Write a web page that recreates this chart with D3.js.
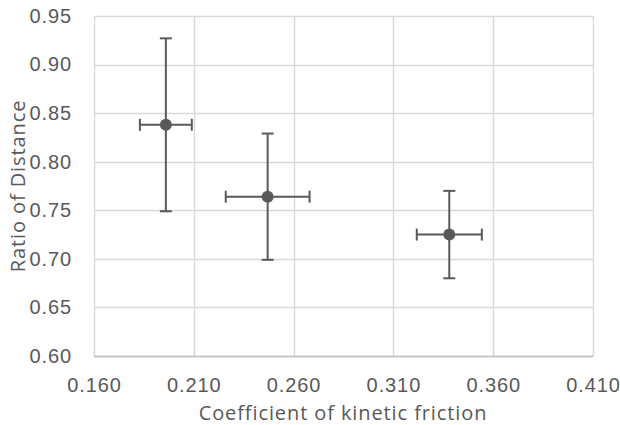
<!DOCTYPE html>
<html>
<head>
<meta charset="utf-8">
<script src="https://cdn.jsdelivr.net/npm/d3@7"></script>
<style>
  body { margin: 0; background: #fff; }
  svg { display: block; font-family: "Open Sans", Lato, sans-serif; }
</style>
</head>
<body>
<svg width="620" height="425"></svg>
<script>
// data
var friction = [0.196, 0.247, 0.338];
var frictionErr = [0.013, 0.021, 0.0163];
var ratio = [0.838, 0.764, 0.725];
var ratioErr = [0.089, 0.065, 0.045];
var xTicks = [0.160, 0.210, 0.260, 0.310, 0.360, 0.410];
var yTicks = [0.60, 0.65, 0.70, 0.75, 0.80, 0.85, 0.90, 0.95];

var svg = d3.select("svg"),
    margin = {top: 16, right: 27, bottom: 69, left: 94},
    width = +svg.attr("width") - margin.left - margin.right,
    height = +svg.attr("height") - margin.top - margin.bottom;

var g = svg.append("g")
    .attr("transform", "translate(" + margin.left + "," + margin.top + ")");

var x = d3.scaleLinear().domain([0.160, 0.410]).range([0, width]);
var y = d3.scaleLinear().domain([0.60, 0.95]).range([height, 0]);

var data = friction.map(function(f, i) {
    return {x: f, xe: frictionErr[i], y: ratio[i], ye: ratioErr[i]};
});

// gridlines
g.append("g")
    .selectAll("line")
    .data(yTicks)
    .enter().append("line")
    .attr("x1", 0).attr("x2", width)
    .attr("y1", function(d) { return Math.round(y(d)) + 0.5; })
    .attr("y2", function(d) { return Math.round(y(d)) + 0.5; })
    .attr("stroke", "#d9d9d9").attr("stroke-width", 1.5);

g.append("g")
    .selectAll("line")
    .data(xTicks)
    .enter().append("line")
    .attr("y1", 0).attr("y2", height)
    .attr("x1", function(d) { return Math.round(x(d)) + 0.5; })
    .attr("x2", function(d) { return Math.round(x(d)) + 0.5; })
    .attr("stroke", "#d9d9d9").attr("stroke-width", 1.5);

// x axis
var xAxis = g.append("g")
    .attr("transform", "translate(0," + height + ")")
    .call(d3.axisBottom(x).tickValues(xTicks).tickFormat(d3.format(".3f")).tickSize(0).tickPadding(22));
xAxis.select(".domain").attr("stroke", "#bfbfbf").attr("stroke-width", 1.5);
xAxis.selectAll("text")
    .style("font-size", "20px").style("letter-spacing", "0.9px")
    .attr("fill", "#595959");

// y axis
var yAxis = g.append("g")
    .call(d3.axisLeft(y).tickValues(yTicks).tickFormat(d3.format(".2f")).tickSize(0).tickPadding(22));
yAxis.select(".domain").remove();
yAxis.selectAll("text")
    .style("font-size", "20px").style("letter-spacing", "0.9px")
    .attr("fill", "#595959");

// axis titles
svg.append("text")
    .attr("x", 343)
    .attr("y", 420)
    .attr("text-anchor", "middle")
    .style("font-size", "20px").style("letter-spacing", "0.9px")
    .attr("fill", "#595959")
    .text("Coefficient of kinetic friction");

svg.append("text")
    .attr("transform", "translate(25," + (margin.top + height / 2) + ") rotate(-90)")
    .attr("text-anchor", "middle")
    .style("font-size", "20px").style("letter-spacing", "0.9px")
    .attr("fill", "#595959")
    .text("Ratio of Distance");

// error bars
var cap = 6, col = "#595959";
var eb = g.selectAll(".eb")
    .data(data)
    .enter().append("g")
    .attr("class", "eb")
    .attr("stroke", col)
    .attr("stroke-width", 2);

eb.append("line")
    .attr("x1", function(d) { return x(d.x); }).attr("x2", function(d) { return x(d.x); })
    .attr("y1", function(d) { return y(d.y + d.ye); }).attr("y2", function(d) { return y(d.y - d.ye); });
eb.append("line")
    .attr("x1", function(d) { return x(d.x) - cap; }).attr("x2", function(d) { return x(d.x) + cap; })
    .attr("y1", function(d) { return y(d.y + d.ye); }).attr("y2", function(d) { return y(d.y + d.ye); });
eb.append("line")
    .attr("x1", function(d) { return x(d.x) - cap; }).attr("x2", function(d) { return x(d.x) + cap; })
    .attr("y1", function(d) { return y(d.y - d.ye); }).attr("y2", function(d) { return y(d.y - d.ye); });

eb.append("line")
    .attr("x1", function(d) { return x(d.x - d.xe); }).attr("x2", function(d) { return x(d.x + d.xe); })
    .attr("y1", function(d) { return y(d.y); }).attr("y2", function(d) { return y(d.y); });
eb.append("line")
    .attr("x1", function(d) { return x(d.x - d.xe); }).attr("x2", function(d) { return x(d.x - d.xe); })
    .attr("y1", function(d) { return y(d.y) - cap; }).attr("y2", function(d) { return y(d.y) + cap; });
eb.append("line")
    .attr("x1", function(d) { return x(d.x + d.xe); }).attr("x2", function(d) { return x(d.x + d.xe); })
    .attr("y1", function(d) { return y(d.y) - cap; }).attr("y2", function(d) { return y(d.y) + cap; });

// markers
g.selectAll(".dot")
    .data(data)
    .enter().append("circle")
    .attr("class", "dot")
    .attr("cx", function(d) { return x(d.x); })
    .attr("cy", function(d) { return y(d.y); })
    .attr("r", 6)
    .attr("fill", col);
</script>
</body>
</html>
